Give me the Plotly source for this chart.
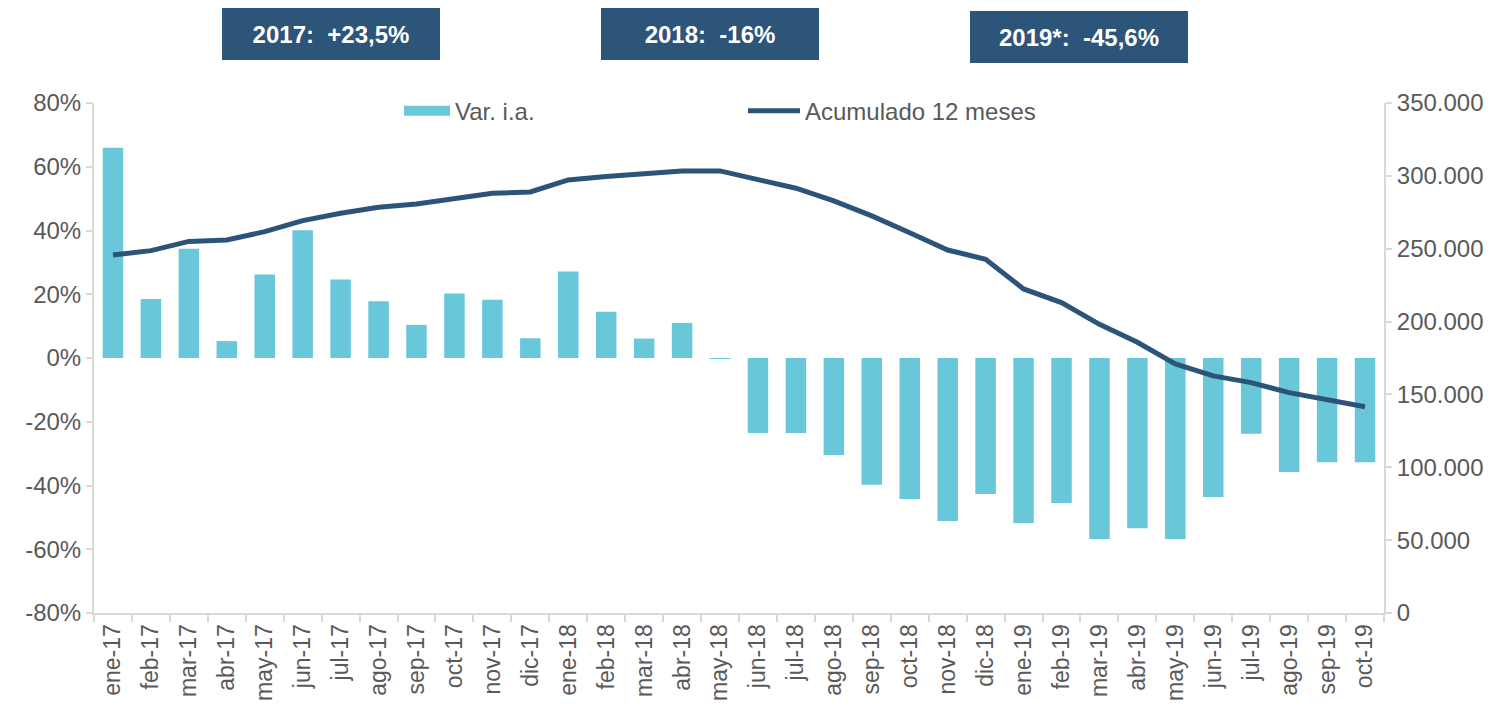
import plotly.graph_objects as go

categories = ["ene-17", "feb-17", "mar-17", "abr-17", "may-17", "jun-17", "jul-17", "ago-17",
              "sep-17", "oct-17", "nov-17", "dic-17", "ene-18", "feb-18", "mar-18", "abr-18",
              "may-18", "jun-18", "jul-18", "ago-18", "sep-18", "oct-18", "nov-18", "dic-18",
              "ene-19", "feb-19", "mar-19", "abr-19", "may-19", "jun-19", "jul-19", "ago-19",
              "sep-19", "oct-19"]

var_ia = [0.66, 0.185, 0.343, 0.053, 0.262, 0.401, 0.246, 0.178,
          0.104, 0.202, 0.183, 0.062, 0.271, 0.145, 0.061, 0.110,
          -0.003, -0.235, -0.235, -0.304, -0.398, -0.442, -0.511, -0.427,
          -0.518, -0.455, -0.568, -0.534, -0.568, -0.436, -0.238, -0.358,
          -0.327, -0.327]

acumulado = [245700, 248700, 255000, 256000, 261700, 269300, 274300, 278400,
             280700, 284600, 288000, 289000, 297200, 299500, 301100, 303400,
             303400, 297400, 291500, 282800, 272500, 261000, 249100, 242800,
             222400, 213000, 198100, 185800, 170900, 162700, 158100, 151200,
             146200, 141600]

left_tickvals = [-0.8, -0.6, -0.4, -0.2, 0, 0.2, 0.4, 0.6, 0.8]
left_ticktext = ["-80%", "-60%", "-40%", "-20%", "0%", "20%", "40%", "60%", "80%"]
right_tickvals = [0, 50000, 100000, 150000, 200000, 250000, 300000, 350000]
right_ticktext = ["0", "50.000", "100.000", "150.000", "200.000", "250.000", "300.000", "350.000"]

box_texts = ["2017:  +23,5%", "2018:  -16%", "2019*:  -45,6%"]

BAR = "#69C7DA"
LINE = "#2C5479"
GRAY = "#595959"
AXIS = "#D9D9D9"
FONT = "Liberation Sans, Arial, sans-serif"

fig = go.Figure()
fig.add_trace(go.Bar(x=categories, y=var_ia, marker=dict(color=BAR, line=dict(width=0)),
                     name="Var. i.a.", showlegend=False, yaxis="y"))
# legend swatch for bars (wide rectangle like the original)
fig.add_trace(go.Scatter(x=[None], y=[None], mode="lines", line=dict(color=BAR, width=10),
                         name="Var. i.a.", legend="legend", yaxis="y"))
fig.add_trace(go.Scatter(x=categories, y=acumulado, mode="lines",
                         line=dict(color=LINE, width=5), name="Acumulado 12 meses",
                         yaxis="y2", legend="legend2"))

fig.update_layout(
    width=1509, height=707,
    margin=dict(l=94, r=125, t=103, b=94),
    paper_bgcolor="white", plot_bgcolor="white",
    font=dict(family=FONT, size=24, color=GRAY),
    bargap=0.46,
    xaxis=dict(type="category", tickangle=-90, showgrid=False, showline=True,
               linecolor=AXIS, linewidth=2, ticks="outside", tickson="boundaries",
               ticklen=7, tickcolor=AXIS, tickwidth=1.5, automargin=False,
               tickfont=dict(size=23, color=GRAY), zeroline=False),
    yaxis=dict(range=[-0.8, 0.8], tickvals=left_tickvals, ticktext=left_ticktext,
               showgrid=False, zeroline=False, showline=True, linecolor=AXIS, linewidth=2,
               ticks="outside", ticklen=6, tickcolor=AXIS, tickwidth=1.5, automargin=False,
               tickfont=dict(size=24, color=GRAY)),
    yaxis2=dict(range=[0, 350000], tickvals=right_tickvals, ticktext=right_ticktext,
                overlaying="y", side="right", showgrid=False, zeroline=False,
                showline=True, linecolor=AXIS, linewidth=2, ticks="outside", ticklen=6,
                tickcolor=AXIS, tickwidth=1.5, automargin=False,
                tickfont=dict(size=24, color=GRAY)),
    legend=dict(orientation="h", x=(399 - 94) / 1290, y=0.984, xanchor="left",
                yanchor="middle", itemwidth=46, bgcolor="rgba(0,0,0,0)",
                font=dict(size=24, color=GRAY)),
    legend2=dict(orientation="h", x=(743 - 94) / 1290, y=0.984, xanchor="left",
                 yanchor="middle", itemwidth=52, bgcolor="rgba(0,0,0,0)",
                 font=dict(size=24, color=GRAY)),
)

box_pos = [(331, 34), (710, 34), (1079, 37)]
for txt, (cx, cy) in zip(box_texts, box_pos):
    fig.add_annotation(
        text="<b>" + txt + "</b>", xref="paper", yref="paper",
        x=(cx - 94) / 1290, y=(613 - cy) / 510, xanchor="center", yanchor="middle",
        showarrow=False, width=218, height=52, bgcolor="#2D5479",
        borderpad=0, borderwidth=0,
        font=dict(family="Liberation Sans Narrow, Arial Narrow, Liberation Sans, sans-serif",
                  size=24, color="white"))

fig.write_html("out.html", config={"displayModeBar": False},
               post_script="document.body.style.margin='0';")
